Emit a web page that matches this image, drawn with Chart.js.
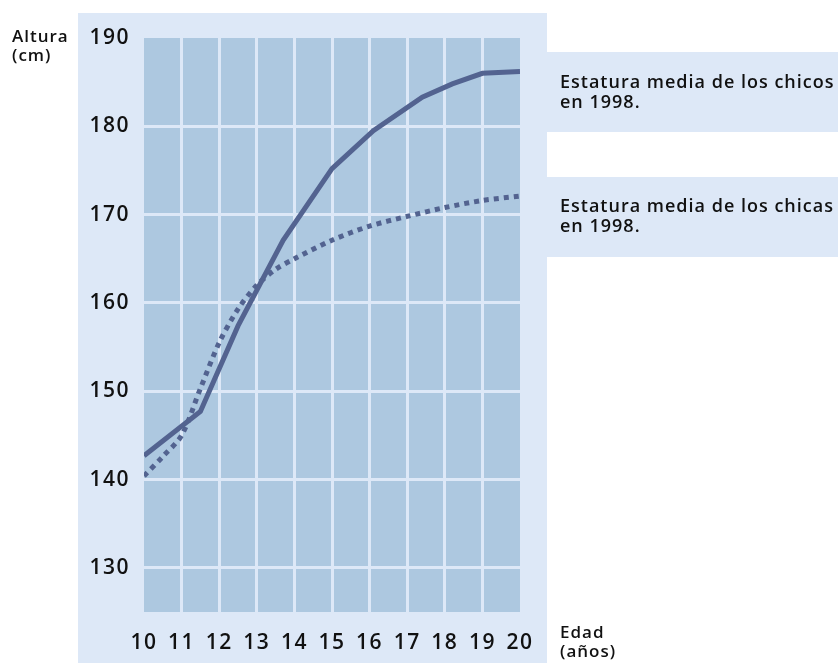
<!DOCTYPE html>
<html>
<head>
<meta charset="utf-8">
<script src="https://cdn.jsdelivr.net/npm/chart.js@4.4.1/dist/chart.umd.min.js"></script>
<style>
    html, body { margin: 0; padding: 0; background: #ffffff; }
    #wrap { width: 838px; height: 663px; }
</style>
</head>
<body>
<div id="wrap"><canvas id="heightChart" width="838" height="663"></canvas></div>
<script>
const xTicks = [10, 11, 12, 13, 14, 15, 16, 17, 18, 19, 20];
const yTicks = [130, 140, 150, 160, 170, 180, 190];

const boysAges = [10, 11.5, 12.5, 13.7, 15, 16.1, 17.4, 18.2, 19, 20];
const boysHeights = [142.7, 147.7, 157.4, 167.1, 175.2, 179.5, 183.3, 184.8, 186.0, 186.2];

const girlsAges = [10, 10.5, 11, 11.5, 12, 12.5, 13, 13.5, 14, 15, 16, 17, 18, 19, 20];
const girlsHeights = [140.4, 142.6, 145.0, 150.3, 155.5, 159.3, 162.0, 163.8, 165.0, 167.1, 168.7, 169.8, 170.8, 171.6, 172.1];

const boysLabel = ["Estatura media de los chicos", "en 1998."];
const girlsLabel = ["Estatura media de los chicas", "en 1998."];
const yTitle = ["Altura", "(cm)"];
const xTitle = ["Edad", "(años)"];

const panelColor = "#dde8f7";
const plotColor = "#adc8e0";
const lineColor = "#536390";
const fontFamily = "'Open Sans', sans-serif";

const toPoints = (xs, ys) => xs.map((x, i) => ({ x: x, y: ys[i] }));

const backdrop = {
    id: "backdrop",
    beforeDraw(chart) {
        const { ctx, chartArea: a } = chart;
        // wider spacing for the tick labels too (the original font is a wide one)
        ctx.letterSpacing = "1.5px";
        ctx.save();
        ctx.fillStyle = panelColor;
        ctx.fillRect(a.left - 66, 13, a.right - a.left + 93, chart.height - 13);
        ctx.fillRect(a.right + 27, 52, chart.width - a.right - 27, 80);
        ctx.fillRect(a.right + 27, 177, chart.width - a.right - 27, 80);
        ctx.fillStyle = plotColor;
        ctx.fillRect(a.left, a.top, a.right - a.left, a.bottom - a.top);
        ctx.restore();
    },
    afterDraw(chart) {
        const { ctx, chartArea: a } = chart;
        ctx.save();
        ctx.fillStyle = "#111111";
        ctx.textBaseline = "alphabetic";
        ctx.textAlign = "left";
        ctx.letterSpacing = "1px";
        ctx.font = "600 17px " + fontFamily;
        ctx.fillText(yTitle[0], 12, 42);
        ctx.fillText(yTitle[1], 12, 61);
        ctx.fillText(xTitle[0], a.right + 40, 638);
        ctx.fillText(xTitle[1], a.right + 40, 657);
        ctx.font = "600 18px " + fontFamily;
        ctx.fillText(boysLabel[0], a.right + 40, 88);
        ctx.fillText(boysLabel[1], a.right + 40, 108);
        ctx.fillText(girlsLabel[0], a.right + 40, 212);
        ctx.fillText(girlsLabel[1], a.right + 40, 232);
        ctx.restore();
    }
};

const ctx = document.getElementById("heightChart").getContext("2d");

new Chart(ctx, {
    type: "line",
    data: {
        datasets: [
            {
                label: "Chicos",
                data: toPoints(boysAges, boysHeights),
                borderColor: lineColor,
                borderWidth: 5,
                pointRadius: 0,
                tension: 0,
                borderCapStyle: "butt",
                borderJoinStyle: "miter"
            },
            {
                label: "Chicas",
                data: toPoints(girlsAges, girlsHeights),
                borderColor: lineColor,
                borderWidth: 5,
                borderDash: [5, 5],
                pointRadius: 0,
                tension: 0.3,
                borderCapStyle: "butt"
            }
        ]
    },
    options: {
        responsive: false,
        animation: false,
        layout: {
            padding: { top: 38, right: 318, bottom: 0, left: 0 }
        },
        plugins: {
            legend: { display: false },
            tooltip: { enabled: false }
        },
        scales: {
            x: {
                type: "linear",
                min: 10,
                max: 20,
                afterBuildTicks: (s) => { s.ticks = xTicks.map((v) => ({ value: v })); },
                afterFit: (s) => { s.height = 51; },
                border: { display: false },
                grid: {
                    drawTicks: false,
                    color: (c) => (c.tick && (c.tick.value === 10 || c.tick.value === 20)) ? "rgba(0,0,0,0)" : panelColor,
                    lineWidth: 3
                },
                ticks: {
                    color: "#111111",
                    padding: 18,
                    font: { family: fontFamily, size: 21, weight: "600" }
                }
            },
            y: {
                type: "linear",
                min: 125,
                max: 190,
                afterBuildTicks: (s) => { s.ticks = yTicks.map((v) => ({ value: v })); },
                afterFit: (s) => { s.width = 144; },
                border: { display: false },
                grid: {
                    drawTicks: false,
                    color: (c) => (c.tick && c.tick.value === 190) ? "rgba(0,0,0,0)" : panelColor,
                    lineWidth: 3
                },
                ticks: {
                    color: "#111111",
                    padding: 14,
                    font: { family: fontFamily, size: 21, weight: "600" }
                }
            }
        }
    },
    plugins: [backdrop]
});
</script>
</body>
</html>
